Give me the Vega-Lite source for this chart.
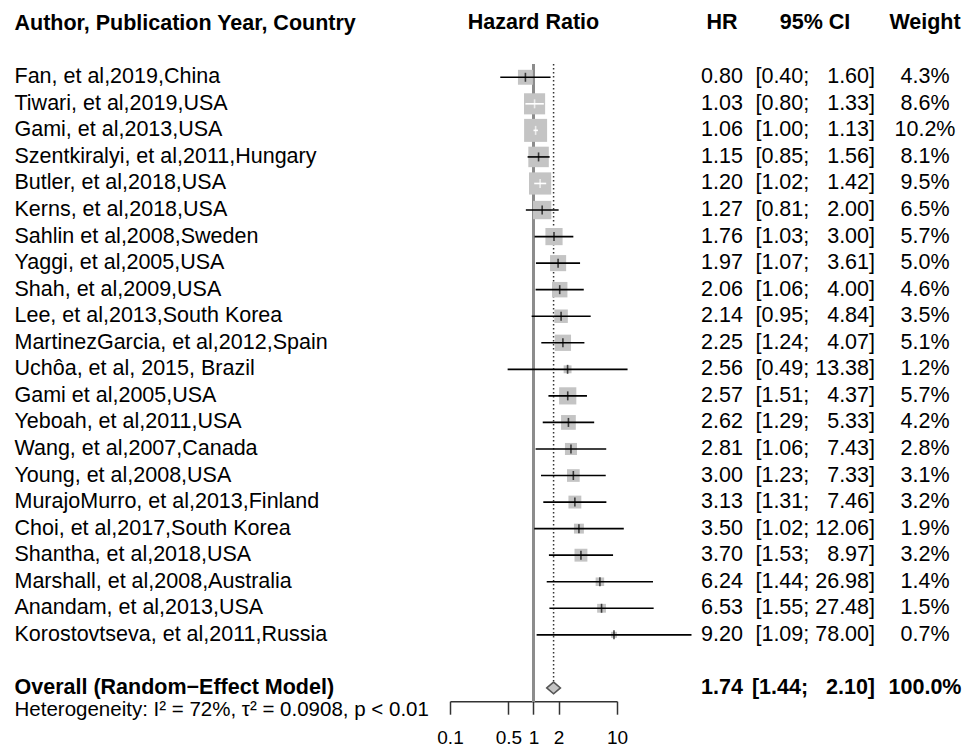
{
  "$schema": "https://vega.github.io/schema/vega-lite/v6.json",
  "padding": {"left": 14, "top": 11, "right": 0, "bottom": 0},
  "config": {
    "font": "Liberation Sans",
    "view": {"stroke": null}
  },
  "data": {"values": [
    {"study": "Fan, et al,2019,China", "kind": "study", "hr": 0.80, "lo": 0.40, "hi": 1.60, "w": 4.3},
    {"study": "Tiwari, et al,2019,USA", "kind": "study", "hr": 1.03, "lo": 0.80, "hi": 1.33, "w": 8.6},
    {"study": "Gami, et al,2013,USA", "kind": "study", "hr": 1.06, "lo": 1.00, "hi": 1.13, "w": 10.2},
    {"study": "Szentkiralyi, et al,2011,Hungary", "kind": "study", "hr": 1.15, "lo": 0.85, "hi": 1.56, "w": 8.1},
    {"study": "Butler, et al,2018,USA", "kind": "study", "hr": 1.20, "lo": 1.02, "hi": 1.42, "w": 9.5},
    {"study": "Kerns, et al,2018,USA", "kind": "study", "hr": 1.27, "lo": 0.81, "hi": 2.00, "w": 6.5},
    {"study": "Sahlin et al,2008,Sweden", "kind": "study", "hr": 1.76, "lo": 1.03, "hi": 3.00, "w": 5.7},
    {"study": "Yaggi, et al,2005,USA", "kind": "study", "hr": 1.97, "lo": 1.07, "hi": 3.61, "w": 5.0},
    {"study": "Shah, et al,2009,USA", "kind": "study", "hr": 2.06, "lo": 1.06, "hi": 4.00, "w": 4.6},
    {"study": "Lee, et al,2013,South Korea", "kind": "study", "hr": 2.14, "lo": 0.95, "hi": 4.84, "w": 3.5},
    {"study": "MartinezGarcia, et al,2012,Spain", "kind": "study", "hr": 2.25, "lo": 1.24, "hi": 4.07, "w": 5.1},
    {"study": "Uchôa, et al, 2015, Brazil", "kind": "study", "hr": 2.56, "lo": 0.49, "hi": 13.38, "w": 1.2},
    {"study": "Gami et al,2005,USA", "kind": "study", "hr": 2.57, "lo": 1.51, "hi": 4.37, "w": 5.7},
    {"study": "Yeboah, et al,2011,USA", "kind": "study", "hr": 2.62, "lo": 1.29, "hi": 5.33, "w": 4.2},
    {"study": "Wang, et al,2007,Canada", "kind": "study", "hr": 2.81, "lo": 1.06, "hi": 7.43, "w": 2.8},
    {"study": "Young, et al,2008,USA", "kind": "study", "hr": 3.00, "lo": 1.23, "hi": 7.33, "w": 3.1},
    {"study": "MurajoMurro, et al,2013,Finland", "kind": "study", "hr": 3.13, "lo": 1.31, "hi": 7.46, "w": 3.2},
    {"study": "Choi, et al,2017,South Korea", "kind": "study", "hr": 3.50, "lo": 1.02, "hi": 12.06, "w": 1.9},
    {"study": "Shantha, et al,2018,USA", "kind": "study", "hr": 3.70, "lo": 1.53, "hi": 8.97, "w": 3.2},
    {"study": "Marshall, et al,2008,Australia", "kind": "study", "hr": 6.24, "lo": 1.44, "hi": 26.98, "w": 1.4},
    {"study": "Anandam, et al,2013,USA", "kind": "study", "hr": 6.53, "lo": 1.55, "hi": 27.48, "w": 1.5},
    {"study": "Korostovtseva, et al,2011,Russia", "kind": "study", "hr": 9.20, "lo": 1.09, "hi": 78.00, "w": 0.7},
    {"study": " ", "kind": "blank"},
    {"study": "Overall (Random\u2212Effect Model)", "kind": "overall", "hr": 1.74, "lo": 1.44, "hi": 2.10, "w": 100.0},
    {"study": "Heterogeneity: I\u00b2 = 72%, \u03c4\u00b2 = 0.0908, p < 0.01", "kind": "het"}
  ]},
  "transform": [
    {"calculate": "isValid(datum.hr) ? format(datum.hr, '.2f') : ''", "as": "hrtxt"},
    {"calculate": "isValid(datum.lo) ? '[' + format(datum.lo, '.2f') + ';' + (datum.hi < 10 ? ' \u00a0\u00a0' : ' ') + format(datum.hi, '.2f') + ']' : ''", "as": "citxt"},
    {"calculate": "isValid(datum.w) ? format(datum.w, '.1f') + '%' : ''", "as": "wtxt"},
    {"calculate": "isValid(datum.lo) && (log(datum.hi) - log(datum.lo)) / LN10 * 83.5 < sqrt(529 * datum.w / 10.2)", "as": "inside"}
  ],
  "bounds": "flush",
  "spacing": 0,
  "hconcat": [
    {
      "width": 167,
      "height": {"step": 26.55},
      "title": {"text": "Hazard Ratio", "offset": -32.7, "baseline": "middle", "anchor": "middle", "fontSize": 21.5, "fontWeight": "bold", "font": "Liberation Sans", "color": "black"},
      "encoding": {
        "y": {
          "field": "study", "type": "nominal", "sort": null,
          "scale": {"type": "band", "paddingInner": 0, "paddingOuter": 0, "domain": [
            "Fan, et al,2019,China", "Tiwari, et al,2019,USA", "Gami, et al,2013,USA", "Szentkiralyi, et al,2011,Hungary",
            "Butler, et al,2018,USA", "Kerns, et al,2018,USA", "Sahlin et al,2008,Sweden", "Yaggi, et al,2005,USA",
            "Shah, et al,2009,USA", "Lee, et al,2013,South Korea", "MartinezGarcia, et al,2012,Spain", "Uchôa, et al, 2015, Brazil",
            "Gami et al,2005,USA", "Yeboah, et al,2011,USA", "Wang, et al,2007,Canada", "Young, et al,2008,USA",
            "MurajoMurro, et al,2013,Finland", "Choi, et al,2017,South Korea", "Shantha, et al,2018,USA", "Marshall, et al,2008,Australia",
            "Anandam, et al,2013,USA", "Korostovtseva, et al,2011,Russia", " ", "Overall (Random\u2212Effect Model)",
            "Heterogeneity: I\u00b2 = 72%, \u03c4\u00b2 = 0.0908, p < 0.01"
          ]},
          "axis": {
            "title": "Author, Publication Year, Country",
            "titleAngle": 0, "titleAlign": "left", "titleBaseline": "middle",
            "titleX": -436, "titleY": -41,
            "titleFontSize": 21.5, "titleFontWeight": "bold", "titleColor": "black", "titleFont": "Liberation Sans",
            "labelAlign": "left", "labelPadding": 436, "labelColor": "black",
            "labelFont": "Liberation Sans", "labelLimit": 700, "labelBaseline": "middle",
            "labelFontSize": {"condition": {"test": "indexof(datum.value, 'Heterogeneity') === 0", "value": 20.5}, "value": 21.5},
            "labelFontWeight": {"condition": {"test": "indexof(datum.value, 'Overall') === 0", "value": "bold"}, "value": "normal"},
            "labelOffset": {"condition": {"test": "indexof(datum.value, 'Heterogeneity') === 0", "value": -4.5}, "value": 0},
            "ticks": false, "tickSize": 0, "domain": false, "grid": false
          }
        }
      },
      "layer": [
        {
          "mark": {"type": "rule", "color": "#8c8c8c", "strokeWidth": 2},
          "encoding": {
            "x": {
              "datum": 1, "type": "quantitative",
              "scale": {"type": "log", "domain": [0.1, 10], "nice": false},
              "axis": {
                "values": [0.1, 0.5, 1, 2, 10], "format": "~g", "offset": -26.55, "title": null, "grid": false,
                "domainColor": "#333333", "domainWidth": 1.5, "tickColor": "#333333", "tickWidth": 1.5, "tickSize": 13,
                "labelFontSize": 19, "labelColor": "black", "labelPadding": 14, "labelFlush": false, "labelOverlap": false,
                "labelFont": "Liberation Sans"
              }
            },
            "y": {"datum": "Fan, et al,2019,China", "type": "nominal", "bandPosition": 0},
            "y2": {"datum": "Overall (Random\u2212Effect Model)", "bandPosition": 1}
          }
        },
        {
          "transform": [{"filter": "datum.kind === 'overall'"}],
          "mark": {"type": "rule", "color": "#333333", "strokeWidth": 1.5, "strokeDash": [1.5, 2.5]},
          "encoding": {
            "x": {"field": "hr", "type": "quantitative"},
            "y": {"datum": "Fan, et al,2019,China", "type": "nominal", "bandPosition": 0},
            "y2": {"datum": "Overall (Random\u2212Effect Model)", "bandPosition": 0.25}
          }
        },
        {
          "transform": [{"filter": "datum.kind === 'study'"}],
          "mark": {"type": "point", "shape": "square", "filled": true, "color": "#c4c4c4", "opacity": 1},
          "encoding": {
            "x": {"field": "hr", "type": "quantitative"},
            "size": {"field": "w", "type": "quantitative", "scale": {"zero": true, "nice": false, "range": [0, 529]}, "legend": null}
          }
        },
        {
          "transform": [{"filter": "datum.kind === 'study'"}],
          "mark": {"type": "rule", "strokeWidth": 1.6},
          "encoding": {
            "x": {"field": "lo", "type": "quantitative"},
            "x2": {"field": "hi"},
            "color": {"condition": {"test": "datum.inside", "value": "white"}, "value": "black"}
          }
        },
        {
          "transform": [{"filter": "datum.kind === 'study'"}],
          "mark": {"type": "tick", "orient": "vertical", "size": 9, "thickness": 1.6},
          "encoding": {
            "x": {"field": "hr", "type": "quantitative"},
            "color": {"condition": {"test": "datum.inside", "value": "white"}, "value": "black"}
          }
        },
        {
          "transform": [{"filter": "datum.kind === 'overall'"}],
          "mark": {"type": "point", "shape": "M-1,0L0,-0.85L1,0L0,0.85Z", "size": 188, "filled": true, "fill": "#c4c4c4", "stroke": "#555555", "strokeWidth": 1.5, "opacity": 1},
          "encoding": {
            "x": {"field": "hr", "type": "quantitative"}
          }
        }
      ]
    },
    {
      "width": 210,
      "height": {"step": 26.55},
      "title": {"text": "HR", "offset": 20, "baseline": "middle", "anchor": "middle", "fontSize": 21.5, "fontWeight": "bold", "font": "Liberation Sans", "color": "black"},
      "mark": {"type": "text", "fontSize": 21.5, "color": "black", "baseline": "middle", "align": "center", "font": "Liberation Sans",
               "fontWeight": {"expr": "datum.kind === 'overall' ? 'bold' : 'normal'"}},
      "encoding": {
        "y": {"field": "study", "type": "nominal", "sort": null, "scale": {"type": "band", "paddingInner": 0, "paddingOuter": 0}, "axis": null},
        "text": {"field": "hrtxt"}
      }
    },
    {
      "width": 96,
      "height": {"step": 26.55},
      "title": {"text": "95% CI", "dx": -60, "offset": 20, "baseline": "middle", "anchor": "middle", "fontSize": 21.5, "fontWeight": "bold", "font": "Liberation Sans", "color": "black"},
      "mark": {"type": "text", "fontSize": 21.5, "color": "black", "baseline": "middle", "align": "right", "font": "Liberation Sans",
               "fontWeight": {"expr": "datum.kind === 'overall' ? 'bold' : 'normal'"}},
      "encoding": {
        "y": {"field": "study", "type": "nominal", "sort": null, "scale": {"type": "band", "paddingInner": 0, "paddingOuter": 0}, "axis": null},
        "text": {"field": "citxt"}
      }
    },
    {
      "width": 4,
      "height": {"step": 26.55},
      "title": {"text": "Weight", "offset": 20, "baseline": "middle", "anchor": "middle", "fontSize": 21.5, "fontWeight": "bold", "font": "Liberation Sans", "color": "black"},
      "mark": {"type": "text", "fontSize": 21.5, "color": "black", "baseline": "middle", "align": "center", "font": "Liberation Sans",
               "fontWeight": {"expr": "datum.kind === 'overall' ? 'bold' : 'normal'"}},
      "encoding": {
        "y": {"field": "study", "type": "nominal", "sort": null, "scale": {"type": "band", "paddingInner": 0, "paddingOuter": 0}, "axis": null},
        "text": {"field": "wtxt"}
      }
    }
  ]
}
